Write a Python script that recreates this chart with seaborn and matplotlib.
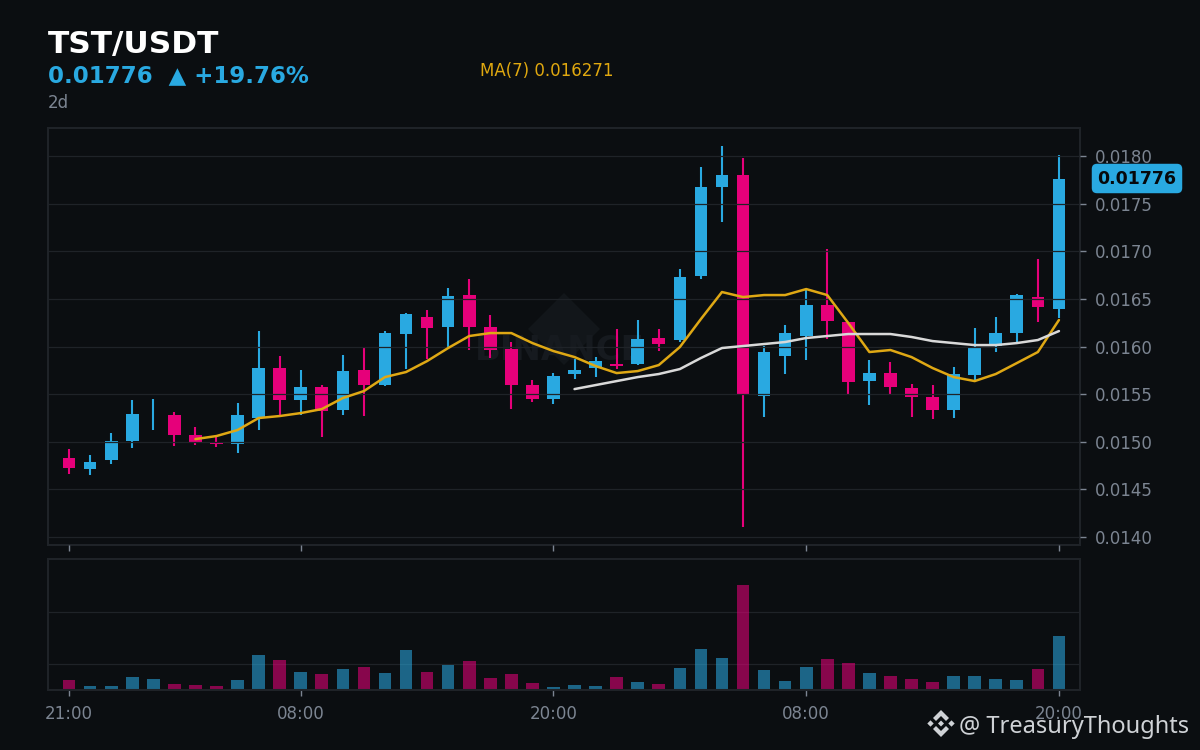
import matplotlib
matplotlib.use('Agg')
import matplotlib.pyplot as plt
import numpy as np
import pandas as pd
import seaborn as sns
from matplotlib.patches import Polygon
from matplotlib.transforms import Affine2D

# candles, oldest first, prices
opens = [.014829, .014713, .014808, .015007, .015290, .015280, .015070, .014986,
         .014976, .015249, .015774, .015438, .015574, .015333, .015753, .015595,
         .016131, .016309, .016204, .016540, .016204, .015973, .015595, .015448,
         .015711, .015774, .015816, .015816, .016089, .016068, .016740, .017674,
         .017800, .015480, .015900, .016110, .016435, .016257, .015637, .015721,
         .015564, .015469, .015333, .015700, .016005, .016141, .016519, .016393]
closes = [.014724, .014787, .015007, .015291, .015290, .015070, .014997, .014976,
          .015280, .015774, .015438, .015574, .015322, .015742, .015595, .016141,
          .016341, .016194, .016530, .016204, .015963, .015595, .015448, .015690,
          .015753, .015847, .015795, .016078, .016026, .016729, .017674, .017800,
          .015501, .015942, .016141, .016435, .016267, .015627, .015721, .015574,
          .015469, .015333, .015711, .015984, .016141, .016540, .016414, .017758]
highs = [.014923, .014860, .015091, .015438, .015448, .015312, .015154, .015060,
         .015406, .016162, .015900, .015753, .015595, .015910, .015984, .016162,
         .016351, .016383, .016614, .016708, .016330, .016047, .015648, .015721,
         .015868, .015889, .016183, .016278, .016183, .016813, .017884, .018105,
         .017979, .016005, .016225, .016593, .017023, .016257, .015858, .015837,
         .015606, .015595, .015784, .016194, .016309, .016551, .016918, .018010]
lows = [.014661, .014650, .014766, .014934, .015123, .014955, .014965, .014944,
        .014881, .015123, .015259, .015280, .015049, .015280, .015270, .015585,
        .015763, .015868, .015994, .015963, .015879, .015343, .015417, .015396,
        .015658, .015679, .015763, .015805, .015952, .016047, .016708, .017307,
        .014104, .015259, .015711, .015858, .016078, .015490, .015385, .015501,
        .015259, .015238, .015249, .015648, .015942, .016047, .016257, .016299]
volumes = [9, 3, 3, 12, 10, 5, 4, 3, 9, 34, 29, 17, 15, 20, 22, 16, 39, 17,
           24, 28, 11, 15, 6, 2, 4, 3, 12, 7, 5, 21, 40, 31, 104, 19, 8, 22,
           30, 26, 16, 13, 10, 7, 13, 13, 10, 9, 20, 53]
ma7 = [.015028, .015060, .015123, .015249, .015270, .015301, .015343, .015459,
       .015532, .015679, .015732, .015847, .015984, .016110, .016141, .016141,
       .016036, .015952, .015889, .015795, .015721, .015742, .015805, .015994,
       .016288, .016572, .016519, .016540, .016540, .016603, .016540, .016246,
       .015942, .015963, .015889, .015774, .015679, .015637, .015711, .015826,
       .015942, .016278]
ma25 = [.015553, .015595, .015637, .015679, .015711, .015763, .015879, .015984,
        .016005, .016026, .016047, .016089, .016110, .016131, .016131, .016131,
        .016100, .016057, .016036, .016015, .016015, .016036, .016068, .016162]
time_ticks = [0, 11, 23, 35, 47]
time_labels = ['21:00', '08:00', '20:00', '08:00', '20:00']
price_ticks = [.0140, .0145, .0150, .0155, .0160, .0165, .0170, .0175, .0180]
volume_grid = [25, 77]

BG = '#0b0e11'
UP = '#29a9e1'
DOWN = '#e6007a'
GRID = '#1f2328'
MUTED = '#7c8592'
W, H = 1200, 750

sns.set_theme(style='dark', rc={'figure.facecolor': BG, 'axes.facecolor': BG,
                                'savefig.facecolor': BG})

df = pd.DataFrame({'open': opens, 'close': closes, 'high': highs, 'low': lows, 'volume': volumes})
df['pos'] = np.arange(len(df))
df['side'] = np.where(df['close'] >= df['open'], 'up', 'down')
colors = df['side'].map({'up': UP, 'down': DOWN})

fig = plt.figure(figsize=(12, 7.5), dpi=100)
ax = fig.add_axes([48 / W, 1 - 545 / H, 1032 / W, 417 / H])
vol_ax = fig.add_axes([48 / W, 1 - 690 / H, 1032 / W, 131 / H])

# pixel coords from the top left, for the logo shapes
px = Affine2D().scale(1 / W, -1 / H).translate(0, 1) + fig.transFigure

# watermark sits under everything else
ax.add_patch(Polygon([(564, 293), (600, 329), (564, 365), (528, 329)], closed=True,
                     transform=px, facecolor='#12161a', edgecolor='none', zorder=0))
ax.text((560 - 48) / 1032, (545 - 351) / 417, 'BINANCE', transform=ax.transAxes, ha='center',
        va='center', fontsize=24.5, fontweight='bold', color='#161a1f', zorder=0.5)

# candles
ax.vlines(df['pos'], df['low'], df['high'], colors=colors, linewidth=1.5, zorder=2)
ax.bar(df['pos'], (df['close'] - df['open']).abs(), bottom=df[['open', 'close']].min(axis=1),
       width=0.6, color=colors, linewidth=0, zorder=2)

sns.lineplot(x=df['pos'].values[6:], y=ma7, ax=ax, color='#dfa814', linewidth=1.8, zorder=4)
sns.lineplot(x=df['pos'].values[24:], y=ma25, ax=ax, color='#d9d9d9', linewidth=1.8, zorder=4)

ax.set_xlim(-1, 48)
ax.set_ylim(.013916, .018294)
ax.set_xticks(time_ticks)
ax.set_xticklabels([])
ax.set_yticks(price_ticks)
ax.set_yticklabels([f'{p:.4f}' for p in price_ticks])
ax.yaxis.tick_right()
ax.grid(axis='y', color=GRID, linewidth=0.9, zorder=3)
ax.set_axisbelow(False)
ax.grid(axis='x', visible=False)
ax.tick_params(axis='y', right=True, color=MUTED, labelcolor=MUTED, labelsize=12, length=4.5, width=1, pad=6.5)
ax.tick_params(axis='x', bottom=True, color=MUTED, length=4.5, width=1)

# volume panel
sns.barplot(data=df, x='pos', y='volume', hue='side', palette={'up': UP, 'down': DOWN},
            native_scale=True, dodge=False, width=0.6, alpha=0.57, linewidth=0, saturation=1,
            legend=False, ax=vol_ax, zorder=2)
vol_ax.set_xlim(-1, 48)
vol_ax.set_ylim(-1, 130)
vol_ax.set_xticks(time_ticks)
vol_ax.set_xticklabels(time_labels)
vol_ax.set_yticks(volume_grid)
vol_ax.set_yticklabels([])
vol_ax.set_xlabel('')
vol_ax.set_ylabel('')
vol_ax.grid(axis='y', color=GRID, linewidth=0.9, zorder=1)
vol_ax.grid(axis='x', visible=False)
vol_ax.set_axisbelow(True)
vol_ax.tick_params(axis='y', left=False, length=0)
vol_ax.tick_params(axis='x', bottom=True, color=MUTED, labelcolor=MUTED, labelsize=12, length=4.5, width=1, pad=6)

for a in (ax, vol_ax):
    for spine in a.spines.values():
        spine.set_color(GRID)
        spine.set_linewidth(1.5)
        spine.set_visible(True)

# header
fig.text(48 / W, 1 - 53 / H, 'TST/USDT', color='white', fontsize=22.5, fontweight='bold')
fig.text(48 / W, 1 - 82 / H, '0.01776  ▲ +19.76%', color=UP, fontsize=16.5, fontweight='bold')
fig.text(48 / W, 1 - 108 / H, '2d', color=MUTED, fontsize=12)
fig.text(480 / W, 1 - 76 / H, 'MA(7) 0.016271', color='#e0a80f', fontsize=12)

# last price tag
fig.text(1137 / W, 1 - 178.5 / H, '0.01776', color='#06090c', fontsize=12.5, fontweight='bold',
         ha='center', va='center', zorder=6,
         bbox=dict(boxstyle='round,pad=0.33,rounding_size=0.3', facecolor=UP, edgecolor='none'))

# logo and handle, bottom right
cx, cy = 941, 723.5
shapes = [[(0, -3), (3, 0), (0, 3), (-3, 0)],
          [(-10.5, -3.2), (-7.3, 0), (-10.5, 3.2), (-13.7, 0)],
          [(10.5, -3.2), (13.7, 0), (10.5, 3.2), (7.3, 0)],
          [(0, -13.5), (8, -5.5), (5, -2.5), (0, -7.5), (-5, -2.5), (-8, -5.5)],
          [(0, 13.5), (8, 5.5), (5, 2.5), (0, 7.5), (-5, 2.5), (-8, 5.5)]]
for pts in shapes:
    fig.add_artist(Polygon([(cx + a, cy + b) for a, b in pts], closed=True, transform=px,
                           facecolor='#cfd2d6', edgecolor='none'))
fig.text(959 / W, 1 - 733 / H, '@ TreasuryThoughts', color='#cfd2d6', fontsize=17, family='Noto Sans')

plt.savefig('out.png', dpi=100)
plt.close()
